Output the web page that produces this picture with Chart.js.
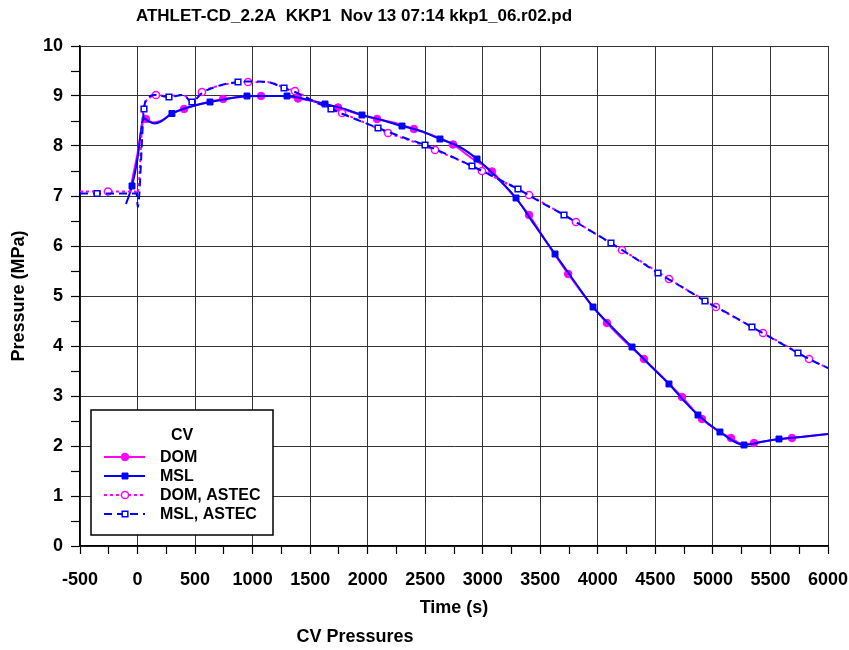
<!DOCTYPE html>
<html>
<head>
<meta charset="utf-8">
<script src="https://cdn.jsdelivr.net/npm/chart.js"></script>
<style>
  html, body { margin: 0; padding: 0; background: #ffffff; }
  #plot { display: block; }
</style>
</head>
<body>
<canvas id="plot" width="849" height="650"></canvas>
<script>
// Texts
const chartTitle = 'ATHLET-CD_2.2A  KKP1  Nov 13 07:14 kkp1_06.r02.pd';
const captionText = 'CV Pressures';
const xTitle = 'Time (s)';
const yTitle = 'Pressure (MPa)';
const legendHeading = 'CV';
const seriesNames = ['DOM', 'MSL', 'DOM, ASTEC', 'MSL, ASTEC'];

// Axis ranges
const xMin = -500, xMax = 6000, xStep = 250, xLabelStep = 500;
const yMin = 0, yMax = 10, yStep = 0.5, yLabelStep = 1;

// DOM (ATHLET-CD)
const domTime = [-65, 0, 50, 73, 130, 200, 300, 404, 560, 743, 900, 1073, 1250, 1394, 1560, 1742, 1900, 2081, 2240, 2402, 2580, 2741, 2900, 3080, 3240, 3402, 3570, 3742, 3910, 4079, 4240, 4401, 4570, 4731, 4905, 5030, 5157, 5270, 5357, 5520, 5687, 5850, 6000];
const domPress = [7.12, 7.85, 8.50, 8.54, 8.47, 8.50, 8.65, 8.74, 8.85, 8.94, 8.98, 9.00, 9.00, 8.95, 8.88, 8.77, 8.65, 8.54, 8.46, 8.34, 8.20, 8.03, 7.76, 7.49, 7.08, 6.62, 6.02, 5.44, 4.92, 4.46, 4.08, 3.74, 3.36, 2.98, 2.54, 2.32, 2.16, 2.03, 2.06, 2.12, 2.16, 2.20, 2.24];
const domMarks = [73, 404, 743, 1073, 1394, 1742, 2081, 2402, 2741, 3080, 3402, 3742, 4079, 4401, 4731, 4905, 5157, 5357, 5687];

// MSL (ATHLET-CD)
const mslTime = [-100, -48, 0, 30, 47, 90, 150, 210, 299, 450, 630, 800, 951, 1100, 1299, 1450, 1629, 1800, 1950, 2120, 2298, 2460, 2628, 2800, 2950, 3100, 3289, 3450, 3628, 3800, 3958, 4130, 4297, 4450, 4618, 4750, 4870, 5061, 5270, 5420, 5574, 5800, 6000];
const mslPress = [6.84, 7.20, 7.75, 8.30, 8.56, 8.50, 8.45, 8.50, 8.65, 8.78, 8.88, 8.95, 9.00, 9.00, 9.00, 8.94, 8.84, 8.74, 8.62, 8.52, 8.40, 8.30, 8.14, 7.98, 7.74, 7.42, 6.96, 6.42, 5.84, 5.28, 4.78, 4.36, 3.98, 3.62, 3.24, 2.90, 2.62, 2.28, 2.02, 2.08, 2.14, 2.19, 2.24];
const mslMarks = [-48, 299, 630, 951, 1299, 1629, 1950, 2298, 2628, 2950, 3289, 3628, 3958, 4297, 4618, 4870, 5061, 5270, 5574];

// DOM (ASTEC)
const domAstecTime = [-500, -257, -20, 0, 50, 100, 160, 260, 395, 473, 560, 700, 960, 1125, 1273, 1368, 1560, 1777, 1980, 2177, 2380, 2585, 2790, 2993, 3200, 3402, 3600, 3810, 4010, 4210, 4410, 4618, 4820, 5026, 5230, 5435, 5640, 5835, 6000];
const domAstecPress = [7.09, 7.09, 7.09, 7.05, 8.70, 8.95, 9.02, 9.00, 9.02, 8.90, 9.08, 9.20, 9.28, 9.28, 9.17, 9.10, 8.86, 8.66, 8.46, 8.26, 8.10, 7.92, 7.72, 7.50, 7.26, 7.02, 6.76, 6.48, 6.20, 5.92, 5.64, 5.34, 5.06, 4.78, 4.52, 4.26, 4.00, 3.74, 3.56];
const domAstecMarks = [-257, 160, 560, 960, 1368, 1777, 2177, 2585, 2993, 3402, 3810, 4210, 4618, 5026, 5435, 5835];

// MSL (ASTEC)
const mslAstecTime = [-500, -352, -8, 2, 56, 90, 150, 273, 395, 473, 560, 700, 873, 1000, 1125, 1273, 1368, 1500, 1681, 1880, 2090, 2300, 2498, 2700, 2906, 3100, 3306, 3500, 3706, 3910, 4114, 4320, 4523, 4730, 4931, 5140, 5339, 5540, 5739, 5870, 6000];
const mslAstecPress = [7.05, 7.05, 7.05, 6.78, 8.74, 8.96, 9.02, 8.98, 9.02, 8.88, 9.06, 9.20, 9.28, 9.29, 9.28, 9.16, 9.08, 8.93, 8.74, 8.55, 8.36, 8.18, 8.02, 7.82, 7.60, 7.38, 7.14, 6.88, 6.62, 6.34, 6.06, 5.76, 5.46, 5.18, 4.90, 4.64, 4.38, 4.12, 3.86, 3.70, 3.56];
const mslAstecMarks = [-352, 56, 273, 473, 873, 1273, 1681, 2090, 2498, 2906, 3306, 3706, 4114, 4523, 4931, 5339, 5739];

const MAGENTA = '#ff00ff';
const BLUE = '#0000ff';
const FONT = "'Liberation Sans', Arial, Helvetica, sans-serif";

function toPoints(times, values) {
  return times.map((t, i) => ({ x: t, y: values[i] }));
}
function markedRadius(marks, r) {
  const set = new Set(marks);
  return ctx => (ctx.raw && set.has(ctx.raw.x)) ? r : 0;
}

const styles = [
  { color: MAGENTA, dash: [], width: 2, point: 'circle', radius: 3.8, fill: MAGENTA, pointBorder: 1 },
  { color: BLUE, dash: [], width: 2, point: 'rect', radius: 4.2, fill: BLUE, pointBorder: 1 },
  { color: MAGENTA, dash: [3, 3], width: 2, point: 'circle', radius: 3.6, fill: '#ffffff', pointBorder: 1.5 },
  { color: BLUE, dash: [8, 5], width: 2, point: 'rect', radius: 4.0, fill: '#ffffff', pointBorder: 1.5 }
];

const seriesData = [
  [domTime, domPress, domMarks],
  [mslTime, mslPress, mslMarks],
  [domAstecTime, domAstecPress, domAstecMarks],
  [mslAstecTime, mslAstecPress, mslAstecMarks]
];

const datasets = seriesData.map((s, i) => {
  const st = styles[i];
  return {
    label: seriesNames[i],
    data: toPoints(s[0], s[1]),
    borderColor: st.color,
    borderWidth: st.width,
    borderDash: st.dash,
    backgroundColor: st.fill,
    pointStyle: st.point,
    pointRadius: markedRadius(s[2], st.radius),
    pointHoverRadius: 0,
    pointBorderColor: st.color,
    pointBackgroundColor: st.fill,
    pointBorderWidth: st.pointBorder,
    cubicInterpolationMode: 'monotone',
    fill: false,
    order: 4 - i
  };
});

// Title above the plot and caption below it
const textPlugin = {
  id: 'headerCaption',
  afterDraw(chart) {
    const ctx = chart.ctx;
    ctx.save();
    ctx.fillStyle = '#000';
    ctx.textAlign = 'center';
    ctx.textBaseline = 'middle';
    ctx.font = 'bold 17px ' + FONT;
    ctx.fillText(chartTitle, 354, 16);
    ctx.font = 'bold 18px ' + FONT;
    ctx.fillText(captionText, 355, 637);
    ctx.restore();
  }
};

// Boxed legend inside the lower-left of the plot
const boxLegend = {
  id: 'boxLegend',
  afterDatasetsDraw(chart) {
    const ctx = chart.ctx;
    const area = chart.chartArea;
    const bx = area.left + 11, by = area.bottom - 136, bw = 182, bh = 125;
    ctx.save();
    ctx.fillStyle = '#ffffff';
    ctx.fillRect(bx, by, bw, bh);
    ctx.strokeStyle = '#000';
    ctx.lineWidth = 1.5;
    ctx.strokeRect(bx, by, bw, bh);
    ctx.fillStyle = '#000';
    ctx.textBaseline = 'middle';
    ctx.textAlign = 'center';
    ctx.font = 'bold 16px ' + FONT;
    ctx.fillText(legendHeading, bx + 91, by + 26);
    chart.data.datasets.forEach((ds, i) => {
      const st = styles[i];
      const y = by + 47 + i * 19;
      const x0 = bx + 13, x1 = bx + 54, xm = bx + 34;
      ctx.strokeStyle = st.color;
      ctx.lineWidth = st.width;
      ctx.setLineDash(st.dash);
      ctx.beginPath();
      ctx.moveTo(x0, y);
      ctx.lineTo(x1, y);
      ctx.stroke();
      ctx.setLineDash([]);
      ctx.fillStyle = st.fill;
      ctx.lineWidth = st.pointBorder;
      ctx.beginPath();
      if (st.point === 'circle') {
        ctx.arc(xm, y, st.radius, 0, Math.PI * 2);
      } else {
        const h = st.radius * Math.SQRT1_2;
        ctx.rect(xm - h, y - h, 2 * h, 2 * h);
      }
      ctx.fill();
      ctx.stroke();
      ctx.fillStyle = '#000';
      ctx.textAlign = 'left';
      ctx.font = 'bold 16px ' + FONT;
      ctx.fillText(ds.label, bx + 69, y + 1);
    });
    ctx.restore();
  }
};

const gridColor = (step) => ctx => {
  const v = ctx.tick ? ctx.tick.value : null;
  if (v === null) return 'transparent';
  return Math.abs(v / step - Math.round(v / step)) < 1e-6 ? '#333333' : 'transparent';
};

new Chart(document.getElementById('plot'), {
  type: 'line',
  data: { datasets },
  options: {
    responsive: false,
    animation: false,
    devicePixelRatio: 1,
    layout: { padding: { top: 46, right: 21, bottom: 0, left: 0 } },
    plugins: {
      legend: { display: false },
      title: { display: false },
      tooltip: { enabled: false }
    },
    events: [],
    scales: {
      x: {
        type: 'linear',
        min: xMin,
        max: xMax,
        afterFit: s => { s.height = 104; s.paddingRight = 0; s.paddingLeft = 0; },
        border: { color: '#000', width: 1.5 },
        grid: {
          color: gridColor(xLabelStep),
          lineWidth: 1,
          tickColor: '#000',
          tickLength: 8,
          tickWidth: 1.2
        },
        ticks: {
          stepSize: xStep,
          autoSkip: false,
          maxRotation: 0,
          padding: 15,
          color: '#000',
          font: { family: FONT, size: 18, weight: 'bold' },
          callback: v => (Math.abs(v / xLabelStep - Math.round(v / xLabelStep)) < 1e-6 ? String(v) : '')
        },
        title: {
          display: true,
          text: xTitle,
          color: '#000',
          font: { family: FONT, size: 18, weight: 'bold' },
          padding: { top: 0, bottom: 31 }
        }
      },
      y: {
        type: 'linear',
        min: yMin,
        max: yMax,
        afterFit: s => { s.width = 80; s.paddingTop = 0; s.paddingBottom = 0; },
        border: { color: '#000', width: 1.5 },
        grid: {
          color: gridColor(yLabelStep),
          lineWidth: 1,
          tickColor: '#000',
          tickLength: 9,
          tickWidth: 1.2
        },
        ticks: {
          stepSize: yStep,
          autoSkip: false,
          padding: 8,
          color: '#000',
          font: { family: FONT, size: 18, weight: 'bold' },
          callback: v => (Math.abs(v / yLabelStep - Math.round(v / yLabelStep)) < 1e-6 ? String(v) : '')
        },
        title: {
          display: true,
          text: yTitle,
          color: '#000',
          font: { family: FONT, size: 18, weight: 'bold' },
          padding: { top: 8, bottom: 0 }
        }
      }
    }
  },
  plugins: [textPlugin, boxLegend]
});
</script>
</body>
</html>
